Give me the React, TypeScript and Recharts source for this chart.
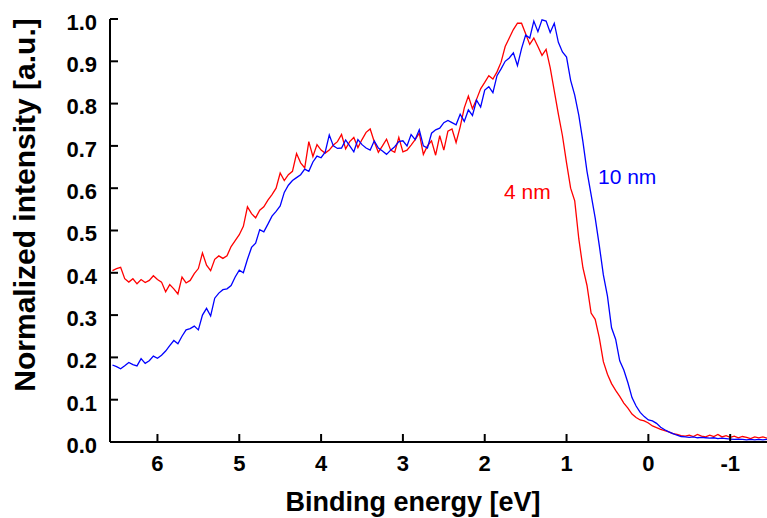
import React from 'react';
import { LineChart, Line, XAxis, YAxis } from 'recharts';

// binding energy grid [eV], left (high) to right (low)
const energy = [
  6.55, 6.5, 6.45, 6.4, 6.35, 6.3, 6.25, 6.2, 6.15, 6.1,
  6.05, 6.0, 5.95, 5.9, 5.85, 5.8, 5.75, 5.7, 5.65, 5.6,
  5.55, 5.5, 5.45, 5.4, 5.35, 5.3, 5.25, 5.2, 5.15, 5.1,
  5.05, 5.0, 4.95, 4.9, 4.85, 4.8, 4.75, 4.7, 4.65, 4.6,
  4.55, 4.5, 4.45, 4.4, 4.35, 4.3, 4.25, 4.2, 4.15, 4.1,
  4.05, 4.0, 3.95, 3.9, 3.85, 3.8, 3.75, 3.7, 3.65, 3.6,
  3.55, 3.5, 3.45, 3.4, 3.35, 3.3, 3.25, 3.2, 3.15, 3.1,
  3.05, 3.0, 2.95, 2.9, 2.85, 2.8, 2.75, 2.7, 2.65, 2.6,
  2.55, 2.5, 2.45, 2.4, 2.35, 2.3, 2.25, 2.2, 2.15, 2.1,
  2.05, 2.0, 1.95, 1.9, 1.85, 1.8, 1.75, 1.7, 1.65, 1.6,
  1.55, 1.5, 1.45, 1.4, 1.35, 1.3, 1.25, 1.2, 1.15, 1.1,
  1.05, 1.0, 0.95, 0.9, 0.85, 0.8, 0.75, 0.7, 0.65, 0.6,
  0.55, 0.5, 0.45, 0.4, 0.35, 0.3, 0.25, 0.2, 0.15, 0.1,
  0.05, 0.0, -0.05, -0.1, -0.15, -0.2, -0.25, -0.3, -0.35, -0.4,
  -0.45, -0.5, -0.55, -0.6, -0.65, -0.7, -0.75, -0.8, -0.85, -0.9,
  -0.95, -1.0, -1.05, -1.1, -1.15, -1.2, -1.25, -1.3, -1.35, -1.4,
  -1.45,
];

// 4 nm film (red)
const film4nm = [
  0.405, 0.41, 0.413, 0.386, 0.378, 0.386, 0.374, 0.384, 0.377, 0.382,
  0.393, 0.384, 0.378, 0.355, 0.372, 0.362, 0.35, 0.39, 0.376, 0.382,
  0.398, 0.41, 0.447, 0.418, 0.405, 0.432, 0.44, 0.434, 0.44, 0.462,
  0.476, 0.49, 0.51, 0.556, 0.54, 0.53, 0.548, 0.556, 0.572, 0.585,
  0.6, 0.636, 0.618, 0.632, 0.64, 0.682, 0.66, 0.648, 0.71, 0.675,
  0.703, 0.69, 0.683, 0.69, 0.702, 0.71, 0.727, 0.693, 0.71, 0.72,
  0.696, 0.715, 0.732, 0.74, 0.71, 0.685, 0.7, 0.716, 0.69, 0.685,
  0.72, 0.686, 0.69, 0.702, 0.715, 0.73, 0.68, 0.7, 0.712, 0.678,
  0.724, 0.69, 0.735, 0.74, 0.708, 0.745, 0.79, 0.818, 0.788, 0.81,
  0.835, 0.85, 0.866, 0.858, 0.875, 0.898, 0.935, 0.955, 0.975, 0.99,
  0.99, 0.965, 0.94, 0.955, 0.935, 0.914, 0.928, 0.885, 0.83, 0.775,
  0.724, 0.66, 0.6, 0.57, 0.48, 0.412, 0.37, 0.305, 0.29, 0.247,
  0.19, 0.16, 0.138, 0.122, 0.108, 0.092, 0.08, 0.066, 0.058, 0.052,
  0.05, 0.045, 0.038, 0.034, 0.03, 0.027, 0.024, 0.02, 0.018, 0.015,
  0.014, 0.016, 0.013, 0.018, 0.014, 0.012, 0.016, 0.013, 0.018, 0.012,
  0.015, 0.011, 0.014, 0.01, 0.013, 0.011, 0.008, 0.012, 0.01, 0.012,
  0.009,
];

// 10 nm film (blue)
const film10nm = [
  0.182, 0.178, 0.173, 0.18, 0.188, 0.183, 0.18, 0.197, 0.186, 0.192,
  0.203, 0.198, 0.205, 0.215, 0.228, 0.24, 0.232, 0.25, 0.265, 0.268,
  0.274, 0.265, 0.3, 0.316, 0.298, 0.34, 0.352, 0.36, 0.362, 0.37,
  0.39, 0.406, 0.4, 0.432, 0.46, 0.47, 0.502, 0.497, 0.515, 0.534,
  0.545, 0.558, 0.59, 0.607, 0.618, 0.625, 0.632, 0.645, 0.64, 0.662,
  0.676, 0.672, 0.685, 0.726, 0.7, 0.694, 0.695, 0.714, 0.7, 0.686,
  0.715, 0.703, 0.695, 0.69, 0.712, 0.695, 0.688, 0.68, 0.69, 0.698,
  0.71, 0.712, 0.7, 0.727, 0.715, 0.738, 0.7, 0.695, 0.73, 0.738,
  0.742, 0.755, 0.76, 0.755, 0.75, 0.775, 0.758, 0.785, 0.772, 0.808,
  0.792, 0.832, 0.84, 0.826, 0.866, 0.882, 0.9, 0.908, 0.92, 0.89,
  0.93, 0.962, 0.955, 0.995, 0.97, 0.998, 0.995, 0.968, 0.99, 0.945,
  0.922, 0.91, 0.855, 0.82, 0.772, 0.71, 0.64, 0.585, 0.53, 0.465,
  0.395, 0.345, 0.27, 0.243, 0.192, 0.17, 0.14, 0.105, 0.085, 0.07,
  0.06, 0.052, 0.05, 0.044, 0.035, 0.029, 0.024, 0.02, 0.016, 0.013,
  0.012, 0.011, 0.012, 0.01, 0.011, 0.01, 0.009, 0.01, 0.008, 0.009,
  0.008, 0.007, 0.006, 0.007, 0.006, 0.005, 0.006, 0.005, 0.006, 0.005,
  0.006,
];

const xTicks = [6, 5, 4, 3, 2, 1, 0, -1];
const yTicks = [0, 0.1, 0.2, 0.3, 0.4, 0.5, 0.6, 0.7, 0.8, 0.9, 1.0];
const xDomain = [-1.45, 6.58];

const data = energy.map((e, i) => ({ e, thin: film4nm[i], thick: film10nm[i] }));

const FONT = '"Liberation Sans", Arial, Helvetica, sans-serif';
const tickStyle = { fill: '#000', fontSize: 22, fontWeight: 'bold', fontFamily: FONT };
const axisLine = { stroke: '#000', strokeWidth: 2 };

export default function App() {
  return (
    <div style={{ position: 'absolute', left: 0, top: 0, width: 767, height: 518, background: '#fff' }}>
      <LineChart width={767} height={518} data={data} margin={{ top: 19, right: 0, bottom: 0, left: 0 }}>
        <XAxis
          type="number"
          dataKey="e"
          domain={xDomain}
          reversed
          allowDataOverflow
          ticks={xTicks}
          interval={0}
          height={76}
          tickSize={-8}
          tickMargin={21}
          tick={tickStyle}
          axisLine={axisLine}
          tickLine={axisLine}
        />
        <XAxis
          xAxisId="top"
          orientation="top"
          type="number"
          dataKey="e"
          domain={xDomain}
          reversed
          allowDataOverflow
          ticks={xTicks}
          interval={0}
          height={0}
          tickSize={-7}
          tickFormatter={() => ''}
          axisLine={axisLine}
          tickLine={axisLine}
        />
        <YAxis
          type="number"
          domain={[0, 1]}
          ticks={yTicks}
          interval={0}
          width={110}
          tickSize={-8}
          tickMargin={21}
          tickFormatter={(v: number) => v.toFixed(1)}
          tick={{ ...tickStyle, dy: 3 }}
          axisLine={axisLine}
          tickLine={axisLine}
        />
        <Line type="linear" dataKey="thin" stroke="#ff0000" strokeWidth={1.3} dot={false} isAnimationActive={false} />
        <Line type="linear" dataKey="thick" stroke="#0000ff" strokeWidth={1.3} dot={false} isAnimationActive={false} />
      </LineChart>
      <svg width={767} height={518} style={{ position: 'absolute', left: 0, top: 0, pointerEvents: 'none' }}>
        <text x={413} y={511} textAnchor="middle" fontFamily={FONT} fontSize={27} fontWeight="bold" fill="#000">
          Binding energy [eV]
        </text>
        <text transform="translate(35,205) rotate(-90)" textAnchor="middle" fontFamily={FONT} fontSize={30} fontWeight="bold" fill="#000">
          Normalized intensity [a.u.]
        </text>
        <text x={504} y={199} fontFamily={FONT} fontSize={21} fill="#ff0000">4 nm</text>
        <text x={598} y={184} fontFamily={FONT} fontSize={21} fill="#0000ff">10 nm</text>
      </svg>
    </div>
  );
}
